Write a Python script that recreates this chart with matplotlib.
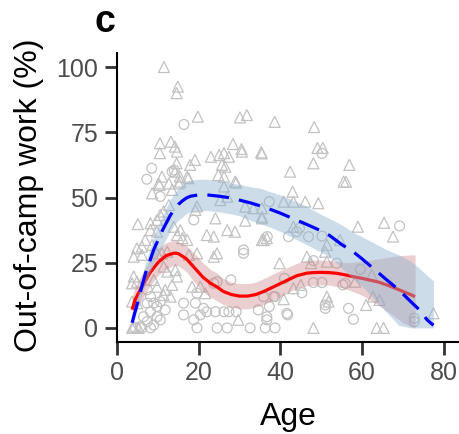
import matplotlib
matplotlib.use("Agg")
import matplotlib.pyplot as plt
import numpy as np

plt.rcParams['font.family'] = ['Liberation Sans', 'DejaVu Sans']

# ---- scatter data (age, % out-of-camp work) ----
tri_age = [11.5,14.9,14.6,19.8,30.1,31.8,38.6,48.3,
           10.5,13.2,14.2,10.5,14.7,
           23,25,26.2,27.4,28.4,30.5,30.6,35.3,35.5,
           49.1,50.4,48.1,56.9,56.1,42.4,43,
           40.8,43.2,46.1,49.3,35.5,59,65.4,67.6,43.2,35.5,55.5,28.9,
           11,10.4,14.6,14.2,15.4,17.5,17.9,19.1,
           25.7,26.5,24.8,29.2,26.2,26.2,
           10.2,12.7,15.1,17.2,8.6,13.5,15.5,
           25.3,27,19.6,19.2,12.7,11.4,10.6,9.8,8.2,24.1,5.1,
           8.2,9.8,13.9,15.5,17.2,16,14.7,22,23.7,27,
           6.9,6.1,8.6,4.9,
           31.4,33.4,35.5,35.5,31.4,36.7,35.9,28.9,51.4,54.6,
           39.8,46.5,51,47.5,51.4,58.3,45,43.2,40.8,51.4,51.8,61,62.7,64.3,62.4,
           48.1,63.6,65.3,77.5,29.7,
           4.1,6.1,9.8,11,12.3,17.6,19.6,23.7,24.5,
           11.4,12.3,14.3,14.7,4.1,4.9,3.7,
           9,9.8,11.8,13.5,11.4,13.1,
           18.4,20.4,21.6,4.1,5.3,3.7,3.7,4.9]
tri_val = [100,92.5,90,81,80.7,81.6,79,77,
           70.8,71.4,69.5,67,67.6,
           65.6,66.3,67,65.6,70.5,68.6,67.6,67.3,66.9,
           69,69,63.1,62.5,56,59.9,52.2,
           48.4,48.4,48.4,47.8,42.6,38.8,40.3,35,38.8,33.7,56.1,56.1,
           58,54.8,63.1,59.9,58,57.4,62.5,64.4,
           62.5,61.8,58.6,55.7,54.2,58,
           55.4,55.4,55.4,58,51.6,52.9,56.1,
           49,50.3,46.6,45.2,47.1,44.6,43.3,41.4,40.1,42,39.8,
           37.5,36.9,38.8,37.5,33.7,34.4,35.6,35.6,35,37.5,
           33.7,31.2,31.8,30.5,
           46.5,45.9,45.9,42,41.1,34.4,33.7,36.9,31.8,33.7,
           24.8,27.3,29.2,24.8,25.4,17.7,16.5,15.2,11,12,10.1,8.8,12,10.7,20.3,
           0,0,0,5.6,3.1,
           27.3,28,28.6,28.6,29.2,28,28.6,27.3,28.6,
           23.5,21.6,22.2,19.7,19.7,17.7,17.1,
           18.4,15.8,14.6,16.5,12.6,12,
           15.8,15.8,13.3,0.5,0,0,10.1,9.5]

circ_age = [16.4,8.5,7.3,14,13.5,10.6,18.8,50.2,37.3,69.2,
            36.8,42,44.7,44,46.9,50.2,31,31,
            48.1,53.8,59.6,45.3,41,38.7,48.1,50.2,55.3,55.9,27.9,
            51,56.7,57.9,41.6,36.7,36.3,38.7,72.8,72.8,
            35.9,38.3,51,29.2,34.6,37.3,41.8,32.6,36.7,
            7.4,8.2,7.4,9,9.8,10.6,8.2,9.8,6.5,7.4,9,5.7,4.5,8.2,6.1,10.6,
            16.3,19.2,19.6,21.2,22,20.4,24.1,18.8,19.6,24.5,27,11.8,16.3,26.2,27.4,23.7,24.5]
circ_val = [78,61.2,57,60.5,59.9,50.4,41.4,66.9,48.4,39.1,
            35,35,38.2,36.9,35,35.2,29.9,28.6,
            25.8,24.8,22.5,13.5,19,12,17.4,17.4,16.5,17.1,18.4,
            7.5,7.5,3.3,5.6,4.3,0,0,3.7,2.4,
            12,12,8.8,6.2,6.9,8.2,5,0,3.1,
            14.6,12,9.5,9.5,8.2,10.1,6.2,4.3,4.3,2.4,1.1,0.5,0,0,0,3.1,
            9.5,9.5,13.3,7.5,6.2,5,6.2,3.1,0,0,0,6.9,5,6.2,6.2,17.1,17.7]

# ---- smooth fits ----
blue_age = [3.7,5,6,7,8,9,10,11,12,13,14,15,16,17,18,20,22,25,28,30,33,35,38,40,43,46,50,52,55,58,60,63,66,69,72,74,76,77.5]
blue_fit = [2,9.5,15.5,21,25.5,30,33.5,37,40,43,45.5,47.3,48.7,49.8,50.5,51,51,50.5,49.8,49,47.8,46.8,45.2,44,42,40,37.2,35.5,32,29,26.5,22.5,18.5,14.6,10,7,3,1]
blue_hi  = [4,12,19,25,30,35,39,42.5,46,49,51.5,53.5,55,56,56.5,57,57,56.5,55.5,55,54,53.6,52,51,49,47,43.5,42,39.5,36.5,35,32.5,30,28,25.5,23,20,18]
blue_lo  = [0,7,12,17,21,25,28,31,34,37,39.5,41.2,42.5,43.8,44.5,45,45,44.5,43.7,43,41,40,38.3,37,34.6,32.3,29,27.3,23,18.5,16,11,6,1,0,0,0,0]

red_age = [3.7,4.4,6,8,10,12,14,15,17,19,21,23,24.5,26,28,30,32,34,36,38,40,42,44,46.5,48,50,52,54,56,58,60,62,64,66,68,70,72,73]
red_fit = [7,10.7,15.5,21,25,27.7,28.7,28.5,26.5,23,19.5,17,15.7,14,12.8,12.2,12.2,12.8,14,15.5,17,18.5,20,21,21.2,21.3,21.2,20.9,20.3,19.6,19,18.3,17.6,16.5,15.3,14,12.7,12]
red_hi  = [12,15.5,20.5,26,30.5,32.7,33.5,33.2,31.5,28.5,25,22.3,21,19,17.5,17,17,17.5,19,20.5,22,23.3,24.8,25.8,26,26,25.8,25.5,25,25.2,25.5,26,26.5,27,27.5,27.8,28,28]
red_lo  = [2,5.9,10.5,16,20,22.7,24,23.8,21.5,17.5,14,11.7,10.4,9,8,7.3,7.3,8,9,10.5,12,13.6,15.2,16.2,16.4,16.5,16.4,15.8,15,13.8,12.5,10.7,8.8,6.5,4.3,2,0.5,0]

xticks = [0, 20, 40, 60, 80]
yticks = [0, 25, 50, 75, 100]

fig = plt.figure(figsize=(4.6, 4.34), dpi=100)
ax = fig.add_axes([117/460, 1-342/434, 343/460, 289/434])

grey = '#C2C2C2'
ax.scatter(circ_age, circ_val, s=50, marker='o', facecolors='none',
           edgecolors=grey, linewidths=0.9, zorder=1, clip_on=False)
ax.scatter(tri_age, tri_val, s=62, marker='^', facecolors='none',
           edgecolors=grey, linewidths=0.9, zorder=1, clip_on=False)

ax.fill_between(red_age, red_lo, red_hi, color='#C98085', alpha=0.38, lw=0, zorder=2)
ax.plot(red_age, red_fit, color='#FF0000', lw=2.3, zorder=3, solid_capstyle='butt')
ax.fill_between(blue_age, blue_lo, blue_hi, color='#8FB4D0', alpha=0.45, lw=0, zorder=4)
ax.plot(blue_age, blue_fit, color='#0000FF', lw=2.3, ls=(0, (6.8, 3.2)), zorder=5)

ax.set_xlim(0, 84)
ax.set_ylim(-5.4, 105.4)
ax.set_xticks(xticks)
ax.set_yticks(yticks)
for s in ['top', 'right']:
    ax.spines[s].set_visible(False)
for s in ['left', 'bottom']:
    ax.spines[s].set_linewidth(1.5)
    ax.spines[s].set_color('black')
ax.tick_params(axis='both', length=9, width=2, color='#333333',
               labelcolor='#4D4D4D', labelsize=18, pad=4.5)

fig.text(288/460, 1-425/434, 'Age', ha='center', va='baseline', fontsize=23, color='black')
fig.text(37/460, 1-195/434, 'Out-of-camp work (%)', rotation=90, rotation_mode='anchor',
         ha='center', va='baseline', fontsize=23, color='black')
fig.text(95/460, 1-32/434, 'c', ha='left', va='baseline', fontsize=27, fontweight='bold')

fig.savefig('out.png', dpi=100)
